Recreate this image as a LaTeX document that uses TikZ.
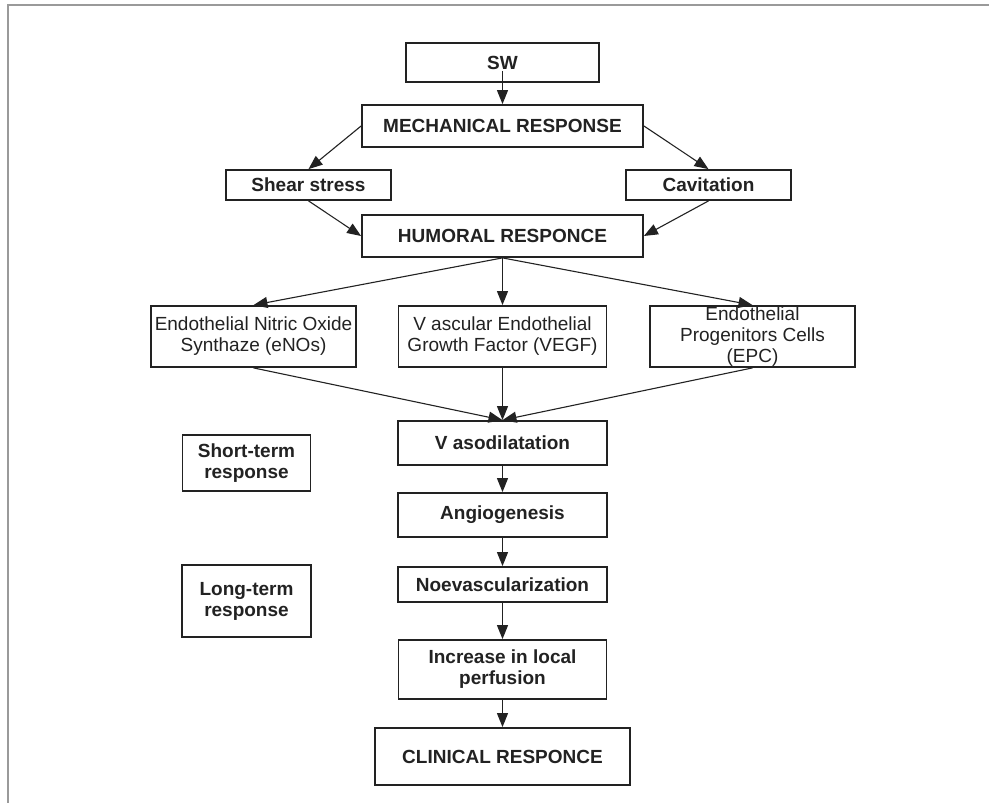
\documentclass[tikz,border=0pt]{standalone}
\usepackage{fontspec}
\setmainfont{Liberation Sans}
\usetikzlibrary{arrows.meta,calc}
\definecolor{ink}{HTML}{222222}
\definecolor{frame}{HTML}{9A9A9A}
\tikzset{
  box/.style={draw=ink, line width=1.8pt, inner sep=0pt, align=center, text=ink,
    font=\fontsize{19}{21}\selectfont},
  bbox/.style={box, font=\fontsize{19}{21}\selectfont\bfseries},
  conn/.style={draw=ink, line width=1.1pt, -{Triangle[length=14pt,width=11pt]}},
}
\begin{document}
\begin{tikzpicture}[x=1pt,y=-1pt]
\useasboundingbox (0,0) rectangle (989,803);
\fill[white] (0,0) rectangle (989,803);
\draw[frame, line width=2pt] (8,803) -- (8,5) -- (989,5);

\node[bbox, minimum width=193pt, minimum height=39pt] (sw) at (502.5,62.5) {SW};
\node[bbox, minimum width=281pt, minimum height=42pt] (mech) at (502.5,126) {MECHANICAL RESPONSE};
\node[bbox, minimum width=165pt, minimum height=30pt] (shear) at (308.5,185) {Shear stress};
\node[bbox, minimum width=165pt, minimum height=30pt] (cav) at (708.5,185) {Cavitation};
\node[bbox, minimum width=281pt, minimum height=42pt] (hum) at (502.5,236) {HUMORAL RESPONCE};

\node[box, minimum width=205pt, minimum height=61pt] (enos) at (253.5,336.5) {Endothelial Nitric Oxide\\Synthaze (eNOs)};
\node[box, minimum width=208pt, minimum height=61pt] (vegf) at (502.5,336.5) {V ascular Endothelial\\Growth Factor (VEGF)};
\node[box, minimum width=205pt, minimum height=61pt] (epc) at (752.5,336.5) {Endothelial\\Progenitors Cells\\(EPC)};

\node[bbox, minimum width=209pt, minimum height=44pt] (vaso) at (502.5,443) {V asodilatation};
\node[bbox, minimum width=209pt, minimum height=44pt] (angio) at (502.5,515) {Angiogenesis};
\node[bbox, minimum width=209pt, minimum height=35pt] (noev) at (502.5,584.5) {Noevascularization};
\node[bbox, minimum width=208pt, minimum height=59pt] (inc) at (502.5,669.5) {Increase in local\\perfusion};
\node[bbox, minimum width=255pt, minimum height=57pt] (clin) at (502.5,756.5) {CLINICAL RESPONCE};

\node[bbox, minimum width=128pt, minimum height=56pt] (short) at (246.5,463) {Short-term\\response};
\node[bbox, minimum width=129pt, minimum height=72pt] (long) at (246.5,601) {Long-term\\response};

\coordinate (swstart) at ($(sw.south)+(0,-12)$);
\draw[conn] (swstart) -- (mech.north);
\draw[conn] (mech.west) -- (shear.north);
\draw[conn] (mech.east) -- (cav.north);
\draw[conn] (shear.south) -- (hum.west);
\draw[conn] (cav.south) -- (hum.east);
\draw[conn] (hum.south) -- (enos.north);
\draw[conn] (hum.south) -- (vegf.north);
\draw[conn] (hum.south) -- (epc.north);
\draw[conn] (enos.south) -- (vaso.north);
\draw[conn] (vegf.south) -- (vaso.north);
\draw[conn] (epc.south) -- (vaso.north);
\draw[conn] (vaso.south) -- (angio.north);
\draw[conn] (angio.south) -- (noev.north);
\draw[conn] (noev.south) -- (inc.north);
\draw[conn] (inc.south) -- (clin.north);
\end{tikzpicture}
\end{document}
